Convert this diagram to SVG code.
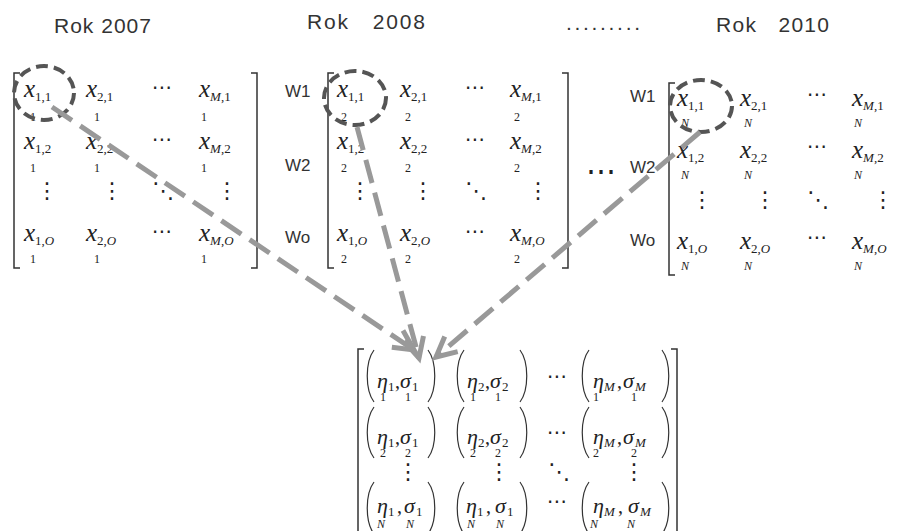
<svg xmlns="http://www.w3.org/2000/svg" width="901" height="531" viewBox="0 0 901 531">
<defs>
<style>
.ttl{font-family:"Liberation Sans",Arial,sans-serif;font-size:21px;fill:#333;white-space:pre}
.wl{font-family:"Liberation Sans",Arial,sans-serif;font-size:17px;fill:#333}
.mx{font-family:"Liberation Serif","Times New Roman",serif;font-size:25px;font-style:italic;fill:#222}
.sb{font-family:"Liberation Serif","Times New Roman",serif;font-size:13px;font-style:normal;fill:#222}
.un{font-family:"Liberation Serif","Times New Roman",serif;font-size:12px;fill:#222}
.it{font-style:italic}
.gr{font-family:"Liberation Serif","Times New Roman",serif;font-size:22px;font-style:italic;fill:#222}
.cm{font-family:"Liberation Serif","Times New Roman",serif;font-size:20px;font-style:normal;fill:#222}
.dt{font-family:"DejaVu Serif","DejaVu Sans",serif;font-size:20px;fill:#222}
.vd{font-family:"DejaVu Serif","DejaVu Sans",serif;font-size:22px;fill:#222}
.br{fill:none;stroke:#333;stroke-width:1.5}
.pr{fill:none;stroke:#333;stroke-width:1.2}
.ring{fill:none;stroke:#555;stroke-width:4;stroke-dasharray:12 6}
.con{fill:none;stroke:#999;stroke-width:5;stroke-dasharray:24 10}
</style>
<marker id="ah" markerUnits="userSpaceOnUse" markerWidth="30" markerHeight="30" refX="22" refY="12" orient="auto" viewBox="0 0 30 24">
<path d="M2,2 L22,12 L2,22" fill="none" stroke="#999" stroke-width="5" stroke-linejoin="miter"/>
</marker>
</defs>
<rect width="901" height="531" fill="#fff"/>

<g id="titles">
<text class="ttl" x="54" y="33" textLength="97">Rok 2007</text>
<text class="ttl" x="307" y="29" textLength="118">Rok   2008</text>
<text class="ttl" x="566" y="30" textLength="74">.........</text>
<text class="ttl" x="716" y="32" textLength="113">Rok   2010</text>
</g>

<g id="m2007">
<path class="br" d="M20,73 H14 V268 H20"/>
<path class="br" d="M251,73 H257 V268 H251"/>
<text class="mx" x="24" y="97">x<tspan class="sb" dy="4">1,1</tspan></text>
<text class="mx" x="86" y="97">x<tspan class="sb" dy="4">2,1</tspan></text>
<text class="dt" x="152" y="94">⋯</text>
<text class="mx" x="199" y="97">x<tspan class="sb" dy="4"><tspan class="it">M</tspan>,1</tspan></text>
<text class="un" x="30" y="121">1</text><text class="un" x="94" y="121">1</text><text class="un" x="201" y="121">1</text>
<text class="mx" x="24" y="149">x<tspan class="sb" dy="4">1,2</tspan></text>
<text class="mx" x="86" y="149">x<tspan class="sb" dy="4">2,2</tspan></text>
<text class="dt" x="152" y="146">⋯</text>
<text class="mx" x="199" y="149">x<tspan class="sb" dy="4"><tspan class="it">M</tspan>,2</tspan></text>
<text class="un" x="30" y="172">1</text><text class="un" x="94" y="172">1</text><text class="un" x="201" y="172">1</text>
<text class="vd" x="36" y="198">⋮</text><text class="vd" x="101" y="198">⋮</text><text class="vd" x="152" y="198">⋱</text><text class="vd" x="216" y="198">⋮</text>
<text class="mx" x="24" y="241">x<tspan class="sb" dy="4">1,<tspan class="it">O</tspan></tspan></text>
<text class="mx" x="86" y="241">x<tspan class="sb" dy="4">2,<tspan class="it">O</tspan></tspan></text>
<text class="dt" x="152" y="238">⋯</text>
<text class="mx" x="199" y="241">x<tspan class="sb" dy="4"><tspan class="it">M</tspan>,<tspan class="it">O</tspan></tspan></text>
<text class="un" x="30" y="263">1</text><text class="un" x="94" y="263">1</text><text class="un" x="201" y="263">1</text>
</g>

<g id="m2008">
<text class="wl" x="285" y="97">W1</text>
<text class="wl" x="285" y="171">W2</text>
<text class="wl" x="285" y="243">Wo</text>
<path class="br" d="M334,73 H328 V268 H334"/>
<path class="br" d="M562,73 H568 V268 H562"/>
<text class="mx" x="337" y="97">x<tspan class="sb" dy="4">1,1</tspan></text>
<text class="mx" x="400" y="97">x<tspan class="sb" dy="4">2,1</tspan></text>
<text class="dt" x="465" y="94">⋯</text>
<text class="mx" x="510" y="97">x<tspan class="sb" dy="4"><tspan class="it">M</tspan>,1</tspan></text>
<text class="un" x="341" y="121">2</text><text class="un" x="405" y="121">2</text><text class="un" x="514" y="121">2</text>
<text class="mx" x="337" y="149">x<tspan class="sb" dy="4">1,2</tspan></text>
<text class="mx" x="400" y="149">x<tspan class="sb" dy="4">2,2</tspan></text>
<text class="dt" x="465" y="146">⋯</text>
<text class="mx" x="510" y="149">x<tspan class="sb" dy="4"><tspan class="it">M</tspan>,2</tspan></text>
<text class="un" x="341" y="172">2</text><text class="un" x="405" y="172">2</text><text class="un" x="514" y="172">2</text>
<text class="vd" x="349" y="198">⋮</text><text class="vd" x="412" y="198">⋮</text><text class="vd" x="465" y="198">⋱</text><text class="vd" x="527" y="198">⋮</text>
<text class="mx" x="337" y="241">x<tspan class="sb" dy="4">1,<tspan class="it">O</tspan></tspan></text>
<text class="mx" x="400" y="241">x<tspan class="sb" dy="4">2,<tspan class="it">O</tspan></tspan></text>
<text class="dt" x="465" y="238">⋯</text>
<text class="mx" x="510" y="241">x<tspan class="sb" dy="4"><tspan class="it">M</tspan>,<tspan class="it">O</tspan></tspan></text>
<text class="un" x="341" y="263">2</text><text class="un" x="405" y="263">2</text><text class="un" x="514" y="263">2</text>
</g>

<text id="gap-dots" x="586" y="181" style="font-family:'DejaVu Serif',serif;font-size:30px;fill:#222">⋯</text>

<g id="m2010">
<text class="wl" x="630" y="102">W1</text>
<text class="wl" x="630" y="173">W2</text>
<text class="wl" x="630" y="246">Wo</text>
<path class="br" d="M675,83 H669 V275 H675"/>
<text class="mx" x="677" y="106">x<tspan class="sb" dy="4">1,1</tspan></text>
<text class="mx" x="740" y="106">x<tspan class="sb" dy="4">2,1</tspan></text>
<text class="dt" x="807" y="101">⋯</text>
<text class="mx" x="852" y="106">x<tspan class="sb" dy="4"><tspan class="it">M</tspan>,1</tspan></text>
<text class="un it" x="681" y="127">N</text><text class="un it" x="744" y="127">N</text><text class="un it" x="854" y="127">N</text>
<text class="mx" x="677" y="158">x<tspan class="sb" dy="4">1,2</tspan></text>
<text class="mx" x="740" y="158">x<tspan class="sb" dy="4">2,2</tspan></text>
<text class="dt" x="807" y="153">⋯</text>
<text class="mx" x="852" y="158">x<tspan class="sb" dy="4"><tspan class="it">M</tspan>,2</tspan></text>
<text class="un it" x="681" y="179">N</text><text class="un it" x="744" y="179">N</text><text class="un it" x="854" y="179">N</text>
<text class="vd" x="691" y="207">⋮</text><text class="vd" x="754" y="207">⋮</text><text class="vd" x="807" y="207">⋱</text><text class="vd" x="872" y="207">⋮</text>
<text class="mx" x="677" y="249">x<tspan class="sb" dy="4">1,<tspan class="it">O</tspan></tspan></text>
<text class="mx" x="740" y="249">x<tspan class="sb" dy="4">2,<tspan class="it">O</tspan></tspan></text>
<text class="dt" x="807" y="244">⋯</text>
<text class="mx" x="852" y="249">x<tspan class="sb" dy="4"><tspan class="it">M</tspan>,<tspan class="it">O</tspan></tspan></text>
<text class="un it" x="681" y="270">N</text><text class="un it" x="744" y="270">N</text><text class="un it" x="854" y="270">N</text>
</g>

<g id="result">
<path class="br" d="M364,349 H358 V535"/>
<path class="br" d="M671,349 H677 V535"/>
<!-- row 1 -->
<path class="pr" d="M374,350 C365,362 365,390 374,402 M428,350 C437,362 437,390 428,402"/>
<path class="pr" d="M464,350 C455,362 455,390 464,402 M520,350 C529,362 529,390 520,402"/>
<path class="pr" d="M589,350 C580,362 580,390 589,402 M662,350 C671,362 671,390 662,402"/>
<text class="gr"><tspan x="377" y="388">η</tspan><tspan class="sb" x="388" y="391">1</tspan><tspan class="cm" x="395" y="388">,</tspan><tspan x="400" y="388">σ</tspan><tspan class="sb" x="412" y="391">1</tspan></text>
<text class="un" x="380" y="401">1</text><text class="un" x="405" y="401">1</text>
<text class="gr"><tspan x="467" y="388">η</tspan><tspan class="sb" x="478" y="391">2</tspan><tspan class="cm" x="485" y="388">,</tspan><tspan x="490" y="388">σ</tspan><tspan class="sb" x="502" y="391">2</tspan></text>
<text class="un" x="470" y="401">1</text><text class="un" x="495" y="401">1</text>
<text class="dt" x="547" y="383">⋯</text>
<text class="gr"><tspan x="593" y="388">η</tspan><tspan class="sb it" x="604" y="391">M</tspan><tspan class="cm" x="617" y="388">,</tspan><tspan x="623" y="388">σ</tspan><tspan class="sb it" x="635" y="391">M</tspan></text>
<text class="un" x="593" y="401">1</text><text class="un" x="631" y="401">1</text>
<!-- row 2 -->
<path class="pr" d="M374,407 C365,419 365,446 374,458 M428,407 C437,419 437,446 428,458"/>
<path class="pr" d="M464,407 C455,419 455,446 464,458 M520,407 C529,419 529,446 520,458"/>
<path class="pr" d="M589,407 C580,419 580,446 589,458 M662,407 C671,419 671,446 662,458"/>
<text class="gr"><tspan x="377" y="444">η</tspan><tspan class="sb" x="388" y="447">1</tspan><tspan class="cm" x="395" y="444">,</tspan><tspan x="400" y="444">σ</tspan><tspan class="sb" x="412" y="447">1</tspan></text>
<text class="un" x="380" y="457">2</text><text class="un" x="405" y="457">2</text>
<text class="gr"><tspan x="467" y="444">η</tspan><tspan class="sb" x="478" y="447">2</tspan><tspan class="cm" x="485" y="444">,</tspan><tspan x="490" y="444">σ</tspan><tspan class="sb" x="502" y="447">2</tspan></text>
<text class="un" x="470" y="457">2</text><text class="un" x="495" y="457">2</text>
<text class="dt" x="547" y="439">⋯</text>
<text class="gr"><tspan x="593" y="444">η</tspan><tspan class="sb it" x="604" y="447">M</tspan><tspan class="cm" x="617" y="444">,</tspan><tspan x="623" y="444">σ</tspan><tspan class="sb it" x="635" y="447">M</tspan></text>
<text class="un" x="593" y="457">2</text><text class="un" x="631" y="457">2</text>
<!-- dots row -->
<text class="vd" x="397" y="479">⋮</text><text class="vd" x="488" y="479">⋮</text><text class="vd" x="548" y="479">⋱</text><text class="vd" x="623" y="479">⋮</text>
<!-- row N -->
<path class="pr" d="M374,482 C365,494 365,522 374,534 M428,482 C437,494 437,522 428,534"/>
<path class="pr" d="M464,482 C455,494 455,522 464,534 M520,482 C529,494 529,522 520,534"/>
<path class="pr" d="M589,482 C580,494 580,522 589,534 M662,482 C671,494 671,522 662,534"/>
<text class="gr"><tspan x="377" y="513">η</tspan><tspan class="sb" x="388" y="516">1</tspan><tspan class="cm" x="397" y="513">,</tspan><tspan x="404" y="513">σ</tspan><tspan class="sb" x="416" y="516">1</tspan></text>
<text class="un it" x="377" y="528">N</text><text class="un it" x="406" y="528">N</text>
<text class="gr"><tspan x="466" y="513">η</tspan><tspan class="sb" x="477" y="516">1</tspan><tspan class="cm" x="486" y="513">,</tspan><tspan x="495" y="513">σ</tspan><tspan class="sb" x="507" y="516">1</tspan></text>
<text class="un it" x="467" y="528">N</text><text class="un it" x="496" y="528">N</text>
<text class="dt" x="547" y="508">⋯</text>
<text class="gr"><tspan x="593" y="513">η</tspan><tspan class="sb it" x="604" y="516">M</tspan><tspan class="cm" x="618" y="513">,</tspan><tspan x="628" y="513">σ</tspan><tspan class="sb it" x="640" y="516">M</tspan></text>
<text class="un it" x="590" y="528">N</text><text class="un it" x="627" y="528">N</text>
</g>

<g id="highlights">
<ellipse class="ring" cx="44" cy="93" rx="30" ry="27"/>
<ellipse class="ring" cx="355" cy="98" rx="31" ry="27"/>
<ellipse class="ring" cx="701" cy="106" rx="31" ry="26"/>
</g>

<g id="connectors">
<path class="con" d="M52,107 L414,350" marker-end="url(#ah)"/>
<path class="con" d="M357,127 L419,358" marker-end="url(#ah)"/>
<path class="con" d="M700,132 L436,357" marker-end="url(#ah)"/>
</g>
</svg>
